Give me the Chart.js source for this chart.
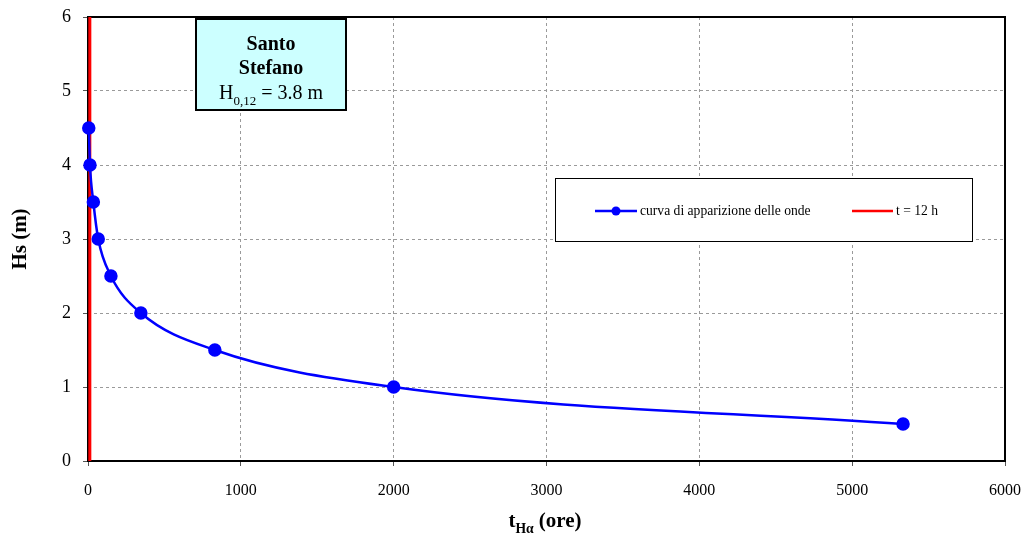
<!DOCTYPE html>
<html>
<head>
<meta charset="utf-8">
<script src="https://cdn.jsdelivr.net/npm/chart.js@4/dist/chart.umd.min.js"></script>
<style>
  html, body { margin: 0; padding: 0; background: #fff; }
  #wrap { width: 1024px; height: 536px; }
</style>
</head>
<body>
<div id="wrap"><canvas id="waveChart" width="1024" height="536"></canvas></div>
<script>
// Data
const durationHours = [5, 13, 35, 67, 150, 346, 830, 2000, 5333];
const waveHeights = [4.5, 4.0, 3.5, 3.0, 2.5, 2.0, 1.5, 1.0, 0.5];
const limitHours = [12, 12];
const limitHeights = [0, 6];
const xTicks = [0, 1000, 2000, 3000, 4000, 5000, 6000];
const yTicks = [0, 1, 2, 3, 4, 5, 6];
const seriesLabels = ['curva di apparizione delle onde', 't = 12 h'];

const SERIF = '"Liberation Serif", "Times New Roman", serif';
const ctx = document.getElementById('waveChart').getContext('2d');

// draw text with a subscript part
function drawSub(c, parts, x, y, size, bold, align) {
    // parts: [[text, isSub], ...]
    const weight = bold ? 'bold ' : '';
    let total = 0;
    parts.forEach(p => {
        c.font = weight + (p[1] ? size * 0.65 : size) + 'px ' + SERIF;
        total += c.measureText(p[0]).width;
    });
    let cx = align === 'center' ? x - total / 2 : x;
    c.textAlign = 'left';
    c.textBaseline = 'alphabetic';
    parts.forEach(p => {
        c.font = weight + (p[1] ? size * 0.65 : size) + 'px ' + SERIF;
        c.fillText(p[0], cx, p[1] ? y + size * 0.3 : y);
        cx += c.measureText(p[0]).width;
    });
}

const decorations = {
    id: 'decorations',
    beforeDatasetsDraw(chart) {
        const c = chart.ctx;
        const a = chart.chartArea;
        c.save();
        // plot frame
        c.strokeStyle = '#000';
        c.lineWidth = 2;
        c.strokeRect(a.left, a.top, a.right - a.left, a.bottom - a.top);
        c.restore();
    },
    afterDatasetsDraw(chart) {
        const c = chart.ctx;
        c.save();
        // title box
        c.fillStyle = '#ccffff';
        c.fillRect(196, 19, 150, 91);
        c.strokeStyle = '#000';
        c.lineWidth = 2;
        c.strokeRect(196, 19, 150, 91);
        c.fillStyle = '#000';
        c.textAlign = 'center';
        c.font = 'bold 20px ' + SERIF;
        c.fillText('Santo', 271, 50);
        c.fillText('Stefano', 271, 74);
        drawSub(c, [['H', false], ['0,12', true], [' = 3.8 m', false]], 271, 99, 20, false, 'center');

        // legend box
        c.fillStyle = '#fff';
        c.fillRect(555, 178, 417, 63);
        c.lineWidth = 1;
        c.strokeRect(555.5, 178.5, 417, 63);
        c.lineWidth = 2.5;
        c.strokeStyle = '#0000ff';
        c.beginPath(); c.moveTo(595, 211); c.lineTo(637, 211); c.stroke();
        c.fillStyle = '#0000ff';
        c.beginPath(); c.arc(616, 211, 4.5, 0, Math.PI * 2); c.fill();
        c.strokeStyle = '#ff0000';
        c.beginPath(); c.moveTo(852, 211); c.lineTo(893, 211); c.stroke();
        c.fillStyle = '#000';
        c.font = '13.6px ' + SERIF;
        c.textAlign = 'left';
        c.textBaseline = 'middle';
        c.fillText(seriesLabels[0], 640, 211);
        c.fillText(seriesLabels[1], 896, 211);

        // axis titles
        c.textBaseline = 'alphabetic';
        drawSub(c, [['t', false], ['H\u03b1', true], [' (ore)', false]], 545, 527, 21, true, 'center');
        c.translate(26, 239);
        c.rotate(-Math.PI / 2);
        c.font = 'bold 21px ' + SERIF;
        c.textAlign = 'center';
        c.fillText('Hs (m)', 0, 0);
        c.restore();
    }
};

const gridStyle = {
    color: '#9a9a9a',
    lineWidth: 1,
    tickColor: '#555',
    tickLength: 5,
    tickBorderDash: [],
    drawTicks: true
};

const chart = new Chart(ctx, {
    type: 'scatter',
    data: {
        datasets: [{
            label: seriesLabels[0],
            data: durationHours.map((x, i) => ({ x: x, y: waveHeights[i] })),
            showLine: true,
            clip: false,
            borderColor: '#0000ff',
            backgroundColor: '#0000ff',
            borderWidth: 2.5,
            pointRadius: 5.5,
            pointHoverRadius: 5.5,
            cubicInterpolationMode: 'monotone'
        }, {
            label: seriesLabels[1],
            data: limitHours.map((x, i) => ({ x: x, y: limitHeights[i] })),
            showLine: true,
            borderColor: '#ff0000',
            backgroundColor: '#ff0000',
            borderWidth: 3,
            pointRadius: 0
        }]
    },
    options: {
        responsive: false,
        animation: false,
        events: [],
        layout: { padding: { left: 0, right: 19, top: 17, bottom: 0 } },
        plugins: {
            legend: { display: false },
            tooltip: { enabled: false }
        },
        scales: {
            x: {
                type: 'linear',
                min: 0,
                max: 6000,
                afterBuildTicks: (s) => { s.ticks = xTicks.map(v => ({ value: v })); },
                afterFit: (s) => { s.height = 75; s.paddingLeft = 0; s.paddingRight = 0; },
                border: { display: false, dash: [3, 3] },
                grid: gridStyle,
                ticks: {
                    color: '#000',
                    padding: 15,
                    font: { family: SERIF, size: 16 },
                    callback: (v) => String(v)
                }
            },
            y: {
                type: 'linear',
                min: 0,
                max: 6,
                afterBuildTicks: (s) => { s.ticks = yTicks.map(v => ({ value: v })); },
                afterFit: (s) => { s.width = 88; s.paddingTop = 0; s.paddingBottom = 0; },
                border: { display: false, dash: [3, 3] },
                grid: gridStyle,
                ticks: {
                    color: '#000',
                    padding: 12,
                    font: { family: SERIF, size: 18 },
                    callback: (v) => String(v)
                }
            }
        }
    },
    plugins: [decorations]
});
</script>
</body>
</html>
